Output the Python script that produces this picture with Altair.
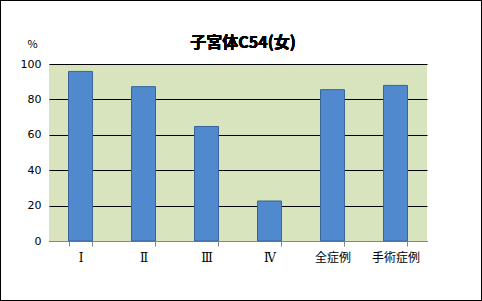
import altair as alt
import pandas as pd

categories = ["Ⅰ", "Ⅱ", "Ⅲ", "Ⅳ", "全症例", "手術症例"]
values = [95.8, 87.2, 64.7, 22.6, 85.5, 87.9]
y_ticks = [0, 20, 40, 60, 80, 100]
title_text = "子宮体C54(女)"

df = pd.DataFrame({"cat": categories, "val": values})

FONT = "Noto Sans CJK JP"

bars = alt.Chart(df).mark_bar(
    color="#5189CF", stroke="#3A6399", strokeWidth=1
).encode(
    x=alt.X("cat:N", sort=categories, title=None,
            scale=alt.Scale(paddingInner=0.62, paddingOuter=0.31),
            axis=alt.Axis(labelAngle=0, tickBand="extent", domainColor="#868686",
                          tickColor="#868686", tickSize=5, labelFontSize=12,
                          labelFont="DejaVu Serif, Noto Sans CJK JP",
                          labelColor="#000000", labelPadding=6)),
    y=alt.Y("val:Q", title="%",
            scale=alt.Scale(domain=[0, 100], nice=False),
            axis=alt.Axis(values=y_ticks, domain=False, ticks=False, gridColor="#000000",
                          gridWidth=1, labelFontSize=11, labelFont="DejaVu Sans",
                          labelColor="#000000", labelPadding=8,
                          titleAngle=0, titleX=-17, titleY=-20, titleFontSize=11,
                          titleFontWeight="normal", titleFont=FONT,
                          titleAlign="center", titleBaseline="middle")),
)

frame = alt.Chart(df).mark_rect(
    filled=False, stroke="#000000", strokeWidth=1, clip=False
).encode(
    x=alt.value(-48.5), x2=alt.value(432.5),
    y=alt.value(-63.5), y2=alt.value(236.5),
)

title = alt.Chart(df).mark_text(
    text=title_text, font=FONT, fontSize=16, fontWeight="bold", color="#000000",
    align="center", baseline="middle", clip=False
).encode(x=alt.value(194), y=alt.value(-21))

chart = alt.layer(bars, frame, title).properties(
    width=378, height=177,
    padding={"left": 49, "top": 64, "right": 55, "bottom": 60},
    autosize=alt.AutoSizeParams(type="none"),
    background="#FFFFFF",
).configure_view(fill="#D7E4BD", stroke=None)

chart.save("out.html", embed_options={"renderer": "svg", "actions": False})
